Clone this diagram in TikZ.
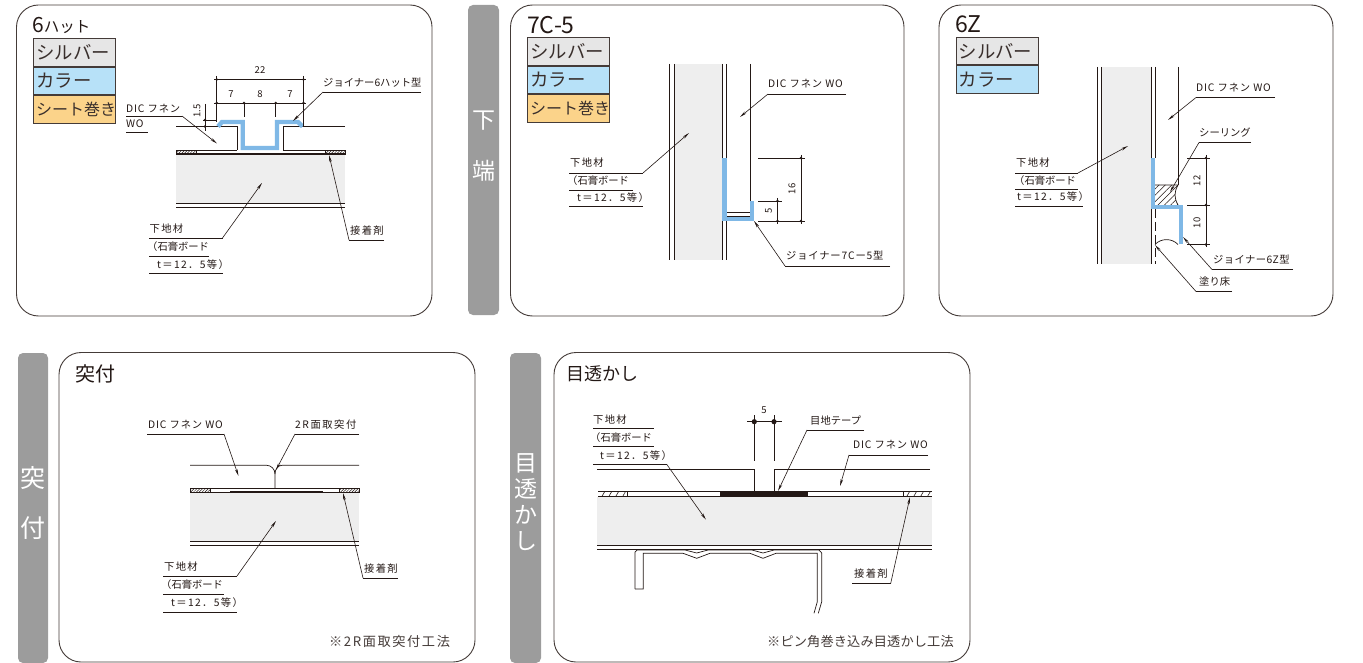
\documentclass[tikz,border=0pt]{standalone}
\usepackage{fontspec}
\setmainfont{Noto Sans CJK JP}
\usetikzlibrary{arrows.meta,patterns.meta}
\definecolor{ink}{HTML}{231815}
\definecolor{barg}{HTML}{9C9C9C}
\definecolor{boardg}{HTML}{EEEEEE}
\definecolor{silv}{HTML}{E6E6E6}
\definecolor{colr}{HTML}{B7E1F8}
\definecolor{sheet}{HTML}{FBD38A}
\definecolor{joiner}{HTML}{7FB8E6}
\newcommand{\wide}[2]{{\addfontfeature{LetterSpace=#1}#2}}
\tikzset{
  panel/.style={draw=ink!85,line width=0.9pt,rounded corners=22pt,fill=white},
  sidebar/.style={fill=barg,rounded corners=5pt},
  bartext/.style={text=white,inner sep=0pt,font=\fontsize{23}{23}\selectfont},
  ttl/.style={anchor=west,inner sep=0pt,text=ink,font=\fontsize{20}{20}\selectfont},
  legbox/.style={draw=ink!85,line width=0.9pt},
  legt/.style={anchor=west,inner sep=0pt,text=ink!90,font=\fontsize{18.4}{18}\selectfont},
  lab/.style={anchor=west,inner sep=0pt,text=ink,text height=8pt,text depth=1.5pt,font=\fontsize{10.3}{11}\selectfont},
  dimt/.style={inner sep=0pt,text=ink,font=\fontsize{9.5}{10}\selectfont},
  notet/.style={anchor=west,inner sep=0pt,text=ink!85,font=\fontsize{13.2}{14}\selectfont},
  ln/.style={draw=ink,line width=0.7pt},
  thk/.style={draw=ink,line width=1.1pt},
  arr/.style={draw=ink,line width=0.6pt,-{Stealth[length=7pt,width=2.6pt]}},
  board/.style={fill=boardg},
  joint/.style={draw=joiner,line width=4.4pt,line join=miter},
  hatchd/.style={draw=ink,line width=0.5pt,pattern={Lines[angle=45,distance=2pt,line width=0.5pt]},pattern color=ink},
  hatchs/.style={pattern={Lines[angle=60,distance=6pt,line width=0.6pt]},pattern color=ink},
}
% underline from free end to elbow, arrow from elbow to tip
\newcommand{\leaderline}[7]{%
  \coordinate (#1-a) at (#2,#4);
  \coordinate (#1-b) at (#3,#4);
  \coordinate (#1-c) at (#5,#6);
  \draw[ln] (#1-a) -- (#1-b);
  \draw[arr] (#7) -- (#1-c);
}
\newcommand{\dotat}[2]{\fill[ink] (#1,#2) circle (1.4);}
\newcommand{\bigdot}[2]{\fill[ink] (#1,#2) circle (2.6);}
\newcommand{\legend}[4]{%
  \node[legbox,fill=silv,minimum width=82pt,minimum height=27.5pt,inner sep=0pt,anchor=north west] (#1-s) at (#2,#3) {};
  \node[legt] at ([xshift=3pt]#1-s.west) {シルバー};
  \node[legbox,fill=colr,minimum width=82pt,minimum height=27.5pt,inner sep=0pt,anchor=north west] (#1-c) at (#1-s.south west) {};
  \node[legt] at ([xshift=3pt]#1-c.west) {カラー};
  #4
}
\newcommand{\sheetbox}[1]{%
  \node[legbox,fill=sheet,minimum width=82pt,minimum height=27.5pt,inner sep=0pt,anchor=north west] (#1-t) at (#1-c.south west) {};
  \node[legt,font=\fontsize{16}{16}\selectfont] at ([xshift=3pt]#1-t.west) {シート巻き};
}
\begin{document}
\begin{tikzpicture}[x=1pt,y=-1pt]
\useasboundingbox (0,0) rectangle (1363,663);
% ---- frames
\draw[panel] (16.5,5) rectangle (432,316);
\draw[panel] (510.5,5) rectangle (904,316);
\draw[panel] (939,5) rectangle (1333,316);
\draw[panel] (59,352.5) rectangle (475,662);
\draw[panel] (554,352.5) rectangle (970,662);
\fill[sidebar] (468,5) rectangle (499,315);
\fill[sidebar] (18,353) rectangle (48,663);
\fill[sidebar] (510,353) rectangle (541,663);
\node[bartext] (b1a) at (484,121) {下};
\node[bartext] (b1b) at (484,171) {端};
\node[bartext,font=\fontsize{25}{25}\selectfont] (b2a) at (33,478) {突};
\node[bartext,font=\fontsize{25}{25}\selectfont] (b2b) at (33,528) {付};
\node[bartext] (b3a) at (526,463) {目};
\node[bartext] (b3b) at (526,489) {透};
\node[bartext] (b3c) at (526,515) {か};
\node[bartext] (b3d) at (526,541) {し};
% ---- titles
\node[ttl] (t1) at (32,25) {{\fontsize{21}{21}\selectfont 6}{\fontsize{15.5}{16}\selectfont ハット}};
\node[ttl,font=\fontsize{23}{23}\selectfont] (t2) at (527,25) {7C-5};
\node[ttl,font=\fontsize{23}{23}\selectfont] (t3) at (955,24) {6Z};
\node[ttl] (t4) at (75,374) {突付};
\node[ttl,font=\fontsize{18}{18}\selectfont] (t5) at (566,374) {目透かし};
\legend{la}{33}{38.5}{\sheetbox{la}}
\legend{lb}{527}{37.5}{\sheetbox{lb}}
\legend{lc}{955.5}{37}{}

% ======== panel 1: 6 hat
\fill[board] (176,154) rectangle (345,203);
\draw[ln] (176,203) -- (345,203);
\draw[ln] (176,207.5) -- (345,207.5);
\draw[ln] (176,126.5) -- (237,126.5) -- (237,150);
\draw[ln] (345,126.5) -- (283,126.5) -- (283,150);
\draw[ln] (176,150) -- (237,150);
\draw[ln] (283,150) -- (345,150);
\draw[thk] (176,154) -- (345,154);
\draw[thk] (217,150.2) -- (237,150.2);
\draw[hatchd] (176,150.5) rectangle (196,154);
\draw[hatchd] (325,150.5) rectangle (345,154);
\draw[joint] (218,126.5) -- (222,122) -- (242.7,122) -- (242.7,148) -- (277,148) -- (277,122) -- (298,122) -- (302.5,126.5);
% dims
\draw[ln] (214,79.5) -- (306,79.5);
\draw[ln] (214,103) -- (306,103);
\draw[ln] (216.7,76) -- (216.7,122);
\draw[ln] (303.5,76) -- (303.5,126);
\draw[ln] (244,103) -- (244,117);
\draw[ln] (275.7,103) -- (275.7,117);
\draw[ln] (205,104) -- (205,131);
\draw[ln] (203,120) -- (217,120);
\draw[ln] (203,126.5) -- (217,126.5);
\dotat{216.7}{79.5}\dotat{303.5}{79.5}\dotat{216.7}{103}\dotat{244}{103}\dotat{275.7}{103}\dotat{303.5}{103}\dotat{205}{120}\dotat{205}{126.5}
\node[dimt] (d1a) at (260,70) {22};
\node[dimt] (d1b) at (231,94) {7};
\node[dimt] (d1c) at (260,94) {8};
\node[dimt] (d1d) at (290,94) {7};
\node[dimt,rotate=90] (d1e) at (197,111) {1.5};
\node[lab] (l1a) at (126,109) {\wide{8}{DIC フネン}};
\node[lab] (l1b) at (126,124) {\wide{8}{WO}};
\leaderline{p1a}{126}{182}{116}{217}{143.5}{p1a-b}
\coordinate (p1u-a) at (126,132); \coordinate (p1u-b) at (148,132);
\draw[ln] (p1u-a) -- (p1u-b);
\node[lab] (l1c) at (323,83) {ジョイナー6ハット型};
\leaderline{p1b}{421}{323}{92}{293}{121}{p1b-b}
\node[lab] (l1d) at (149.5,229) {\wide{13}{下地材}};
\node[lab] (l1e) at (147,247) {（石膏ボード};
\node[lab] (l1f) at (157,265) {\wide{13}{t＝12．5等）}};
\leaderline{p1c}{149}{222.5}{238}{262}{183}{p1c-b}
\coordinate (p1d-a) at (149,256); \coordinate (p1d-b) at (209,256);
\coordinate (p1e-a) at (149,273.5); \coordinate (p1e-b) at (222.5,273.5);
\draw[ln] (p1d-a) -- (p1d-b); \draw[ln] (p1e-a) -- (p1e-b);
\node[lab] (l1g) at (350,231) {\wide{13}{接着剤}};
\leaderline{p1f}{384}{349}{240}{329}{155}{p1f-b}

% ======== panel 2: 7C-5
\fill[board] (674,64) rectangle (722.5,260);
\draw[ln] (669,64) -- (669,260);
\draw[ln] (674,64) -- (674,260);
\draw[ln] (722.5,64) -- (722.5,260);
\draw[ln] (726.5,64) -- (726.5,260);
\draw[ln] (750,64) -- (750,201);
\draw[ln] (727,212) -- (750,212);
\draw[ln] (727,216) -- (750,216);
\draw[joint,line width=4.4pt] (724.5,158) -- (724.5,219) -- (752,219) -- (752,201);
\draw[ln] (758,158) -- (805,158);
\draw[ln] (758,201) -- (782,201);
\draw[ln] (758,221) -- (805,221);
\draw[ln] (801,155) -- (801,224);
\draw[ln] (777.5,198) -- (777.5,224);
\dotat{801}{158}\dotat{801}{221}\dotat{777.5}{201}\dotat{777.5}{221}
\node[dimt,rotate=90] (d2a) at (792,189) {16};
\node[dimt,rotate=90] (d2b) at (768.5,211) {5};
\node[lab] (l2a) at (768,84) {\wide{8}{DIC フネン WO}};
\leaderline{p2a}{846}{768}{94}{740}{117}{p2a-b}
\node[lab] (l2b) at (570,163) {\wide{13}{下地材}};
\node[lab] (l2c) at (567,181) {（石膏ボード};
\node[lab] (l2d) at (577,198) {\wide{13}{t＝12．5等）}};
\leaderline{p2b}{569}{643}{173}{689}{133}{p2b-b}
\coordinate (p2c-a) at (569,190); \coordinate (p2c-b) at (633,190);
\coordinate (p2d-a) at (569,206); \coordinate (p2d-b) at (643,206);
\draw[ln] (p2c-a) -- (p2c-b); \draw[ln] (p2d-a) -- (p2d-b);
\node[lab] (l2e) at (786,256) {\wide{8}{ジョイナー7Cー5型}};
\leaderline{p2e}{890}{785}{266}{754}{221}{p2e-b}

% ======== panel 3: 6Z
\fill[board] (1101,67) rectangle (1151,264);
\draw[ln] (1097,67) -- (1097,264);
\draw[ln] (1101,67) -- (1101,264);
\draw[ln] (1151,67) -- (1151,264);
\draw[ln] (1155,67) -- (1155,158);
\draw[ln,dashed,dash pattern=on 9pt off 4pt] (1155,209) -- (1155,264);
\draw[ln] (1178,67) -- (1178,185);
\path[hatchs,pattern={Lines[angle=45,distance=4.5pt,line width=0.5pt]}] (1155,185) -- (1178,185) .. controls (1174,192) and (1174,198) .. (1178,205) -- (1155,205) -- cycle;
\draw[ln] (1155,185) -- (1178,185) .. controls (1174,192) and (1174,198) .. (1178,205);
\draw[ln] (1155,244.5) .. controls (1161,238) and (1172,238) .. (1178,244.5);
\draw[joint] (1153,158) -- (1153,207) -- (1180.7,207) -- (1180.7,244.5);
\draw[ln] (1206,155) -- (1206,247.5);
\draw[ln] (1187,158) -- (1210,158);
\draw[ln] (1187,205) -- (1210,205);
\draw[ln] (1187,244.5) -- (1210,244.5);
\dotat{1206}{158}\dotat{1206}{205}\dotat{1206}{244.5}
\node[dimt,rotate=90] (d3a) at (1197,181) {12};
\node[dimt,rotate=90] (d3b) at (1197,223) {10};
\node[lab] (l3a) at (1196,88) {\wide{8}{DIC フネン WO}};
\leaderline{p3a}{1275}{1196}{97.5}{1168}{120}{p3a-b}
\node[lab] (l3b) at (1199,133) {シーリング};
\leaderline{p3b}{1251}{1199}{142.5}{1170}{192}{p3b-b}
\node[lab] (l3c) at (1016,163) {\wide{13}{下地材}};
\node[lab] (l3d) at (1014,181) {（石膏ボード};
\node[lab] (l3e) at (1017,197) {\wide{13}{t＝12．5等）}};
\leaderline{p3c}{1015}{1078}{173}{1128}{146}{p3c-b}
\coordinate (p3d-a) at (1015,189); \coordinate (p3d-b) at (1078,189);
\coordinate (p3e-a) at (1015,206); \coordinate (p3e-b) at (1083,206);
\draw[ln] (p3d-a) -- (p3d-b); \draw[ln] (p3e-a) -- (p3e-b);
\node[lab] (l3f) at (1213,260) {\wide{4}{ジョイナー6Z型}};
\leaderline{p3f}{1293}{1212}{269.5}{1183}{237}{p3f-b}
\node[lab] (l3g) at (1199,282) {塗り床};
\leaderline{p3g}{1232}{1196}{291.5}{1155}{245}{p3g-b}

% ======== panel 4: butt joint
\fill[board] (190,492) rectangle (359,541);
\draw[ln] (190,541) -- (359,541);
\draw[ln] (190,545) -- (359,545);
\draw[ln] (190,465.3) -- (266.7,465.3) .. controls (271,465.3) and (275,469) .. (275,474) -- (275,488);
\draw[ln] (359,465.3) -- (282,465.3) .. controls (278,465.3) and (275,469) .. (275,474);
\draw[ln] (190,488.3) -- (359,488.3);
\draw[ln] (190,492) -- (359,492);
\draw[thk] (230,492) -- (323,492);
\draw[hatchd] (190,488.5) rectangle (210,492);
\draw[hatchd] (339,488.5) rectangle (359,492);
\node[lab] (l4a) at (148,425) {\wide{8}{DIC フネン WO}};
\leaderline{p4a}{147}{224}{434}{238.5}{476}{p4a-b}
\node[lab] (l4b) at (295,425) {\wide{15}{2R面取突付}};
\leaderline{p4b}{359}{295}{434}{276}{470}{p4b-b}
\node[lab] (l4c) at (164,567) {\wide{13}{下地材}};
\node[lab] (l4d) at (161,585) {（石膏ボード};
\node[lab] (l4e) at (171,603) {\wide{13}{t＝12．5等）}};
\leaderline{p4c}{163}{237}{576}{276}{521}{p4c-b}
\coordinate (p4d-a) at (163,594); \coordinate (p4d-b) at (224,594);
\coordinate (p4e-a) at (163,612); \coordinate (p4e-b) at (237,612);
\draw[ln] (p4d-a) -- (p4d-b); \draw[ln] (p4e-a) -- (p4e-b);
\node[lab] (l4f) at (364,569) {\wide{13}{接着剤}};
\leaderline{p4f}{398}{363}{578}{343}{493}{p4f-b}
\node[notet] (n4) at (329,641) {\wide{12}{※2R面取突付工法}};

% ======== panel 5: reveal joint
\fill[board] (597,497) rectangle (932,546);
\draw[ln] (597,545.7) -- (932,545.7);
\draw[ln] (597,549.7) -- (932,549.7);
\draw[ln] (597,469) -- (754.3,469) -- (754.3,492);
\draw[ln] (930,469) -- (774,469) -- (774,492);
\draw[ln] (598,491.7) -- (932,491.7);
\draw[ln] (598,496) -- (932,496);
\fill[ink] (720,491.3) rectangle (808,496.6);
\path[hatchs] (598,492) rectangle (627,496);
\path[hatchs] (903,492) rectangle (932,496);
\draw[ln] (627,492) -- (627,496);
\draw[ln] (903,492) -- (903,496);
\draw[ln] (754.3,415) -- (754.3,461);
\draw[ln] (774,415) -- (774,461);
\draw[ln] (747,421.7) -- (782,421.7);
\bigdot{754.3}{421.7}\bigdot{774}{421.7}
\node[dimt] (d5a) at (764,410) {5};
% channel
\draw[ln] (635,589) -- (635,552) -- (637,550) -- (685,550) -- (696.7,553) -- (708,550) -- (752,550) -- (763,553) -- (774,550) -- (819,550) -- (821.7,553) -- (821.7,601.7) -- (818.3,613.3);
\draw[ln] (635,589) -- (643.3,589) -- (643.3,553.3) -- (683,553.3) -- (696.7,558.3) -- (710,553.3) -- (750,553.3) -- (763,558.3) -- (776,553.3) -- (817.3,553.3) -- (817.3,601.7) -- (814,613.3);
\node[lab] (l5a) at (593,420) {\wide{13}{下地材}};
\node[lab] (l5b) at (590,438) {（石膏ボード};
\node[lab] (l5c) at (600,456) {\wide{13}{t＝12．5等）}};
\leaderline{p5a}{593}{666.7}{464.3}{706}{519.7}{p5a-b}
\coordinate (p5b-a) at (593,428.3); \coordinate (p5b-b) at (654,428.3);
\coordinate (p5c-a) at (593,446.7); \coordinate (p5c-b) at (654,446.7);
\draw[ln] (p5b-a) -- (p5b-b); \draw[ln] (p5c-a) -- (p5c-b);
\node[lab] (l5d) at (810,421.7) {目地テープ};
\leaderline{p5d}{864}{807}{430}{778}{491}{p5d-b}
\node[lab] (l5e) at (853,445.7) {\wide{8}{DIC フネン WO}};
\leaderline{p5e}{928}{849}{455}{840}{486}{p5e-b}
\node[lab] (l5f) at (854,574) {\wide{13}{接着剤}};
\leaderline{p5f}{852}{890.7}{583.3}{910}{497}{p5f-b}
\node[notet] (n5) at (767,641) {\wide{1}{※ピン角巻き込み目透かし工法}};
\end{tikzpicture}
\end{document}
